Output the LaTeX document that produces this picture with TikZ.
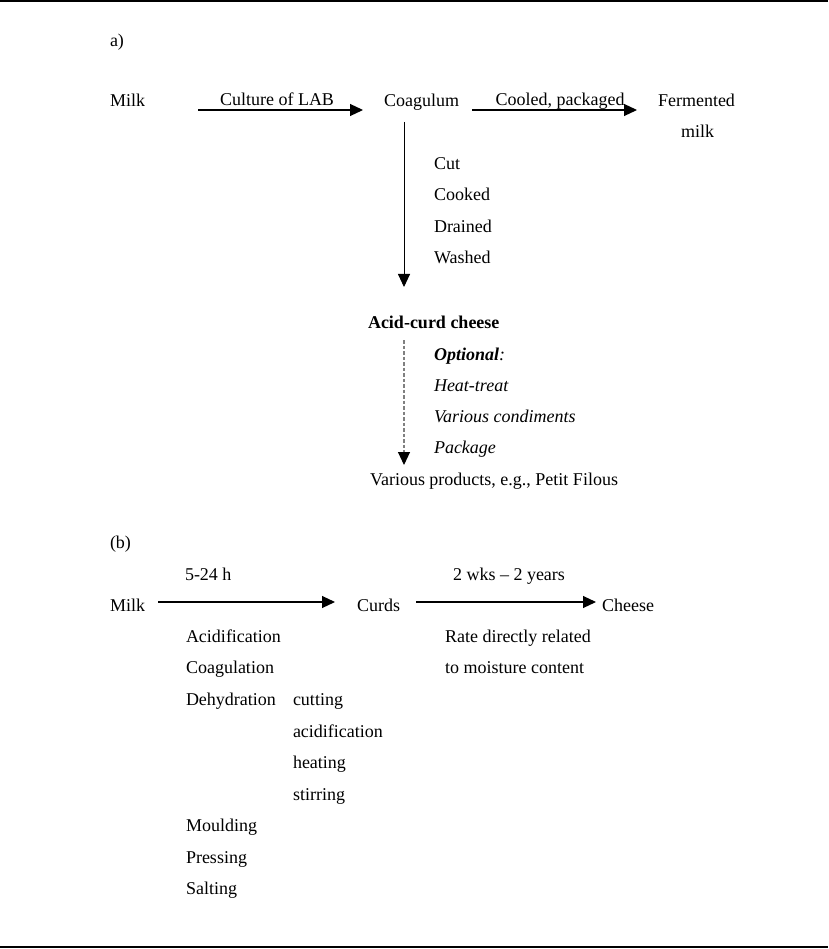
\documentclass[tikz,border=0pt]{standalone}
\usepackage{fontspec}
\setmainfont{Liberation Serif}
\usetikzlibrary{arrows.meta}
\begin{document}
\begin{tikzpicture}[x=1pt,y=-1pt,
  txt/.style={anchor=base west,inner sep=0pt,outer sep=0pt,font=\fontsize{18}{22}\selectfont},
  lbl/.style={anchor=base,inner sep=0pt,outer sep=0pt,font=\fontsize{18}{22}\selectfont},
  flow/.style={-{Triangle[length=13pt,width=12pt]},line width=1.1pt},
  dflow/.style={-{Triangle[length=13pt,width=12pt,color=black]},line width=1.1pt,draw=gray,dash pattern=on 3.5pt off 2pt},
  rule/.style={line width=1.6pt}]
\useasboundingbox (0,0) rectangle (828,949);
\coordinate (tl) at (0,1); \coordinate (tr) at (828,1);
\coordinate (bl) at (0,947); \coordinate (br) at (828,947);
\draw[rule] (tl) -- (tr);
\draw[rule] (bl) -- (br);

% ---------- a) ----------
\node[txt] (alab) at (110,47) {a)};
\node[txt] (milkA) at (110,107) {Milk};
\node[txt] (coag) at (384,107) {Coagulum};
\node[txt] (ferm) at (658,107) {Fermented};
\node[txt] (fermb) at (681,138) {milk};

\coordinate (a1s) at (198,110); \coordinate (a1e) at (363,110);
\coordinate (a2s) at (472,110); \coordinate (a2e) at (637,110);
\draw[flow] (a1s) -- (a1e);
\draw[flow] (a2s) -- (a2e);
\node[lbl] (lab1) at (277,106) {Culture of LAB};
\node[lbl] (lab2) at (560,106) {Cooled, packaged};

\coordinate (v1s) at (404,122); \coordinate (v1e) at (404,287);
\draw[flow,line width=0.9pt] (v1s) -- (v1e);
\node[txt] (cut) at (434,170) {Cut};
\node[txt] (cooked) at (434,201) {Cooked};
\node[txt] (drained) at (434,233) {Drained};
\node[txt] (washed) at (434,264) {Washed};

\node[txt] (acc) at (368,328) {\textbf{Acid-curd cheese}};
\coordinate (v2s) at (404,340); \coordinate (v2e) at (404,465);
\draw[dflow] (v2s) -- (v2e);
\node[txt] (opt) at (434,360) {\textbf{\textit{Optional}}\textit{:}};
\node[txt] (heat) at (434,391) {\textit{Heat-treat}};
\node[txt] (cond) at (434,422) {\textit{Various condiments}};
\node[txt] (pack) at (434,453) {\textit{Package}};
\node[txt] (prod) at (370,485) {Various products, e.g., Petit Filous};

% ---------- (b) ----------
\node[txt] (blab) at (110,548) {(b)};
\node[txt] (milkB) at (110,611) {Milk};
\node[txt] (curds) at (357,611) {Curds};
\node[txt] (cheese) at (602,611) {Cheese};
\coordinate (b1s) at (158,602); \coordinate (b1e) at (335,602);
\coordinate (b2s) at (416,602); \coordinate (b2e) at (596,602);
\draw[flow] (b1s) -- (b1e);
\draw[flow] (b2s) -- (b2e);
\node[txt] (t1) at (185,580) {5-24 h};
\node[txt] (t2) at (453,580) {2 wks -- 2 years};

\node[txt] (s1) at (186,642) {Acidification};
\node[txt] (s2) at (186,673) {Coagulation};
\node[txt] (s3) at (186,705) {Dehydration};
\node[txt] (d1) at (293,705) {cutting};
\node[txt] (d2) at (293,737) {acidification};
\node[txt] (d3) at (293,768) {heating};
\node[txt] (d4) at (293,800) {stirring};
\node[txt] (s4) at (186,831) {Moulding};
\node[txt] (s5) at (186,863) {Pressing};
\node[txt] (s6) at (186,894) {Salting};
\node[txt] (r1) at (445,642) {Rate directly related};
\node[txt] (r2) at (445,673) {to moisture content};
\end{tikzpicture}
\end{document}
